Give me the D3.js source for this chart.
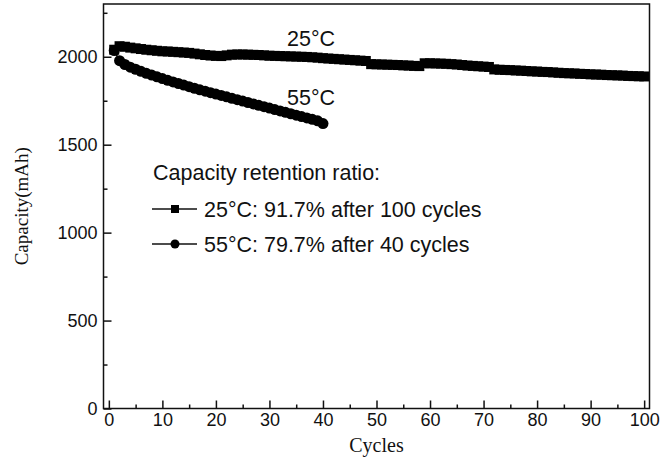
<!DOCTYPE html>
<html>
<head>
<meta charset="utf-8">
<script src="https://cdn.jsdelivr.net/npm/d3@7/dist/d3.min.js"></script>
<style>
  html, body { margin: 0; padding: 0; background: #fff; }
  svg { display: block; }
</style>
</head>
<body>
<svg id="chart" width="671" height="461"></svg>
<script>
// Discharge capacity (mAh) per cycle at two temperatures
const cycles25 = d3.range(1, 101);
const capacity25 = [
  2040, 2060, 2057, 2052, 2048, 2044, 2040, 2037, 2034, 2031,
  2030, 2028, 2026, 2024, 2022, 2018, 2014, 2010, 2007, 2005,
  2004, 2008, 2012, 2013, 2013, 2012, 2011, 2010, 2008, 2006,
  2005, 2004, 2003, 2002, 2001, 2000, 1999, 1997, 1995, 1992,
  1990, 1988, 1986, 1984, 1982, 1980, 1978, 1976, 1958, 1957,
  1956, 1955, 1954, 1953, 1951, 1950, 1948, 1947, 1963, 1963,
  1962, 1961, 1960, 1958, 1956, 1953, 1950, 1948, 1946, 1944,
  1942, 1928, 1926, 1925, 1924, 1922, 1921, 1919, 1917, 1916,
  1914, 1913, 1911, 1909, 1907, 1906, 1905, 1903, 1902, 1900,
  1899, 1898, 1896, 1895, 1894, 1893, 1891, 1890, 1889, 1888
];
const cycles55 = d3.range(1, 41);
const capacity55 = [
  2035, 1978, 1956, 1941, 1929, 1917, 1906, 1896, 1886, 1876,
  1866, 1857, 1848, 1839, 1830, 1821, 1812, 1804, 1796, 1788,
  1780, 1772, 1764, 1756, 1748, 1740, 1732, 1724, 1716, 1708,
  1700, 1692, 1684, 1676, 1668, 1660, 1652, 1644, 1636, 1620
];
const xTicks = [0, 10, 20, 30, 40, 50, 60, 70, 80, 90, 100];
const yTicks = [0, 500, 1000, 1500, 2000];
const legendTitle = "Capacity retention ratio:";
const legendEntries = [
  { label: "25°C: 91.7% after 100 cycles", shape: "square" },
  { label: "55°C: 79.7% after 40 cycles", shape: "circle" }
];

const svg = d3.select("#chart");
const plotLeft = 103.5, plotRight = 649.5, plotTop = 4, plotBottom = 408.5;
const sans = '"Liberation Sans", Arial, sans-serif';
const serif = '"Liberation Serif", "Times New Roman", serif';
const ink = "#111";

const x = d3.scaleLinear().domain([-1, 101]).range([plotLeft, plotRight]);
const y = d3.scaleLinear().domain([0, 2300]).range([plotBottom, plotTop]);

// Frame
svg.append("rect")
  .attr("x", plotLeft).attr("y", plotTop)
  .attr("width", plotRight - plotLeft).attr("height", plotBottom - plotTop)
  .attr("fill", "none").attr("stroke", ink).attr("stroke-width", 1.5);

// Bottom axis: major ticks every 10, minor every 5, pointing inward
svg.append("g").attr("transform", `translate(0,${plotBottom})`)
  .call(d3.axisBottom(x).tickValues(xTicks).tickSize(-8).tickPadding(5).tickFormat(d3.format("d")));
svg.append("g").attr("transform", `translate(0,${plotBottom})`)
  .call(d3.axisBottom(x).tickValues(d3.range(5, 100, 10)).tickSize(-4).tickFormat(""));

// Left axis: major ticks every 500, minor every 250
svg.append("g").attr("transform", `translate(${plotLeft},0)`)
  .call(d3.axisLeft(y).tickValues(yTicks).tickSize(-8).tickPadding(6).tickFormat(d3.format("d")));
svg.append("g").attr("transform", `translate(${plotLeft},0)`)
  .call(d3.axisLeft(y).tickValues([250, 750, 1250, 1750, 2250]).tickSize(-4).tickFormat(""));

svg.selectAll(".domain").remove();
svg.selectAll(".tick line").attr("stroke", ink).attr("stroke-width", 1.5);
svg.selectAll(".tick text").attr("fill", ink).attr("font-size", 18).attr("font-family", sans);

// Axis titles
svg.append("text")
  .attr("x", (plotLeft + plotRight) / 2).attr("y", 452)
  .attr("text-anchor", "middle").attr("font-family", serif).attr("font-size", 20)
  .attr("fill", ink).text("Cycles");
svg.append("text")
  .attr("transform", `translate(28,${(plotTop + plotBottom) / 2}) rotate(-90)`)
  .attr("text-anchor", "middle").attr("font-family", serif).attr("font-size", 19)
  .attr("fill", ink).text("Capacity(mAh)");

// Data series
const line = d3.line().x(d => x(d[0])).y(d => y(d[1]));
const data25 = cycles25.map((c, i) => [c, capacity25[i]]);
const data55 = cycles55.map((c, i) => [c, capacity55[i]]);

const squareSize = 10, circleR = 5.5;
svg.append("path").datum(data25).attr("d", line)
  .attr("fill", "none").attr("stroke", "#000").attr("stroke-width", 1.5);
svg.append("g").selectAll("rect").data(data25).join("rect")
  .attr("x", d => x(d[0]) - squareSize / 2).attr("y", d => y(d[1]) - squareSize / 2)
  .attr("width", squareSize).attr("height", squareSize).attr("fill", "#000");

svg.append("path").datum(data55).attr("d", line)
  .attr("fill", "none").attr("stroke", "#000").attr("stroke-width", 1.5);
svg.append("g").selectAll("circle").data(data55).join("circle")
  .attr("cx", d => x(d[0])).attr("cy", d => y(d[1])).attr("r", circleR).attr("fill", "#000");

// Series annotations
svg.append("text").attr("x", 287).attr("y", 46)
  .attr("font-family", sans).attr("font-size", 21.5).attr("fill", ink).text("25°C");
svg.append("text").attr("x", 287).attr("y", 105)
  .attr("font-family", sans).attr("font-size", 21.5).attr("fill", ink).text("55°C");

// Legend
const legend = svg.append("g");
legend.append("text").attr("x", 153).attr("y", 180)
  .attr("font-family", sans).attr("font-size", 21.5).attr("fill", ink).text(legendTitle);
legendEntries.forEach((e, i) => {
  const ly = 209 + i * 35;
  legend.append("line").attr("x1", 152).attr("x2", 197).attr("y1", ly).attr("y2", ly)
    .attr("stroke", ink).attr("stroke-width", 1.5);
  if (e.shape === "square") {
    legend.append("rect").attr("x", 175 - 4).attr("y", ly - 4).attr("width", 8).attr("height", 8).attr("fill", "#000");
  } else {
    legend.append("circle").attr("cx", 175).attr("cy", ly).attr("r", 4.5).attr("fill", "#000");
  }
  legend.append("text").attr("x", 204).attr("y", ly + 7.5)
    .attr("font-family", sans).attr("font-size", 21.5).attr("fill", ink).text(e.label);
});
</script>
</body>
</html>
